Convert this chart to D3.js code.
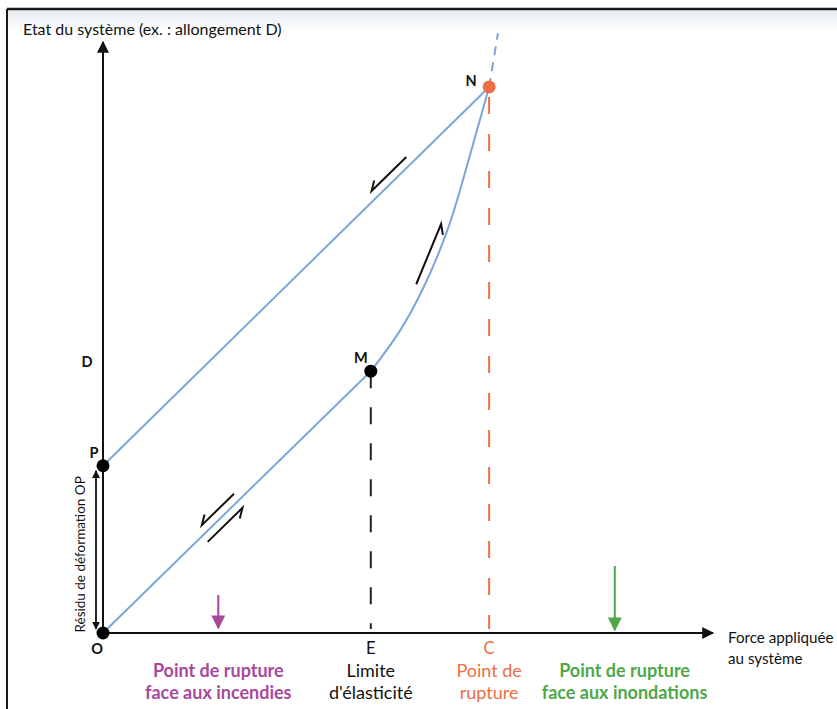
<!DOCTYPE html>
<html><head><meta charset="utf-8">
<script src="https://cdn.jsdelivr.net/npm/d3@7"></script>
<style>html,body{margin:0;padding:0;background:#fff}svg{display:block}</style>
</head><body>
<script>
// ---- data (force on x, system state on y, arbitrary units 0..100) ----
const pointNames = ["O", "P", "M", "N"];
const pointX = [0, 0, 43.9, 63.3];
const pointY = [0, 28.3, 44.3, 92.4];
// plastic loading curve M -> N
const curveX = [43.9, 48.7, 52.5, 56.9, 59.7, 63.3];
const curveY = [44.3, 50.8, 58.0, 68.7, 79.2, 92.4];
// extension beyond N (dashed)
const extX = [63.3, 64.75];
const extY = [92.4, 101.5];
// threshold positions on x axis
const tickNames = ["E", "C"];
const tickX = [43.9, 63.3];
const levelName = "D";
const levelY = 45.9;
const fireX = 18.9;
const floodX = 83.9;
const floodLabelX = 85.5;

const W = 837, H = 709;
const svg = d3.select("body").append("svg").attr("width", W).attr("height", H);
const x = d3.scaleLinear().domain([0, 100]).range([103, 713]);
const y = d3.scaleLinear().domain([0, 100]).range([633, 42]);

const FONT = "Lato, 'Open Sans', sans-serif";
const BLUE = "#7aa6d8", ORANGE = "#ec6e45", PURPLE = "#a8499c", GREEN = "#4ea84a";

const defs = svg.append("defs");
const g1 = defs.append("linearGradient").attr("id", "topfade").attr("x1", 0).attr("x2", 0).attr("y1", 0).attr("y2", 1);
g1.append("stop").attr("offset", 0).attr("stop-color", "#e6ecef");
g1.append("stop").attr("offset", 1).attr("stop-color", "#ffffff");
function marker(id, color, w, h) {
  defs.append("marker").attr("id", id).attr("viewBox", "0 0 10 10").attr("refX", 9).attr("refY", 5)
    .attr("markerWidth", w).attr("markerHeight", h).attr("markerUnits", "userSpaceOnUse").attr("orient", "auto-start-reverse")
    .append("path").attr("d", "M0,0L10,5L0,10z").attr("fill", color);
}
marker("arrBlack", "#111", 16, 12);
marker("arrSmall", "#111", 8, 8);
marker("arrPurple", PURPLE, 14, 14);
marker("arrGreen", GREEN, 14, 14);

// frame
svg.append("rect").attr("x", 8).attr("y", 10).attr("width", W).attr("height", 22).attr("fill", "url(#topfade)");
svg.append("line").attr("x1", 7).attr("x2", W).attr("y1", 9).attr("y2", 9).attr("stroke", "#1a1a1a").attr("stroke-width", 2.5);
svg.append("line").attr("x1", 7).attr("x2", 7).attr("y1", 9).attr("y2", H).attr("stroke", "#1a1a1a").attr("stroke-width", 2);

// dashed verticals
svg.append("line").attr("x1", x(tickX[0])).attr("x2", x(tickX[0])).attr("y1", y(pointY[2])).attr("y2", y(0) - 4)
  .attr("stroke", "#222").attr("stroke-width", 2).attr("stroke-dasharray", "17,19");
svg.append("line").attr("x1", x(tickX[1])).attr("x2", x(tickX[1])).attr("y1", y(pointY[3]) + 10).attr("y2", y(0) - 4)
  .attr("stroke", ORANGE).attr("stroke-width", 2).attr("stroke-dasharray", "17,20");

// axes
svg.append("line").attr("x1", x(0)).attr("x2", x(0)).attr("y1", y(0)).attr("y2", y(100))
  .attr("stroke", "#111").attr("stroke-width", 2).attr("marker-end", "url(#arrBlack)");
svg.append("line").attr("x1", x(0)).attr("x2", x(100)).attr("y1", y(0)).attr("y2", y(0))
  .attr("stroke", "#111").attr("stroke-width", 2).attr("marker-end", "url(#arrBlack)");

// blue lines
const line = d3.line().x(d => x(d[0])).y(d => y(d[1]));
const O = [pointX[0], pointY[0]], P = [pointX[1], pointY[1]], M = [pointX[2], pointY[2]], N = [pointX[3], pointY[3]];
svg.append("path").attr("d", line([O, M])).attr("stroke", BLUE).attr("stroke-width", 2).attr("fill", "none");
svg.append("path").attr("d", line([P, N])).attr("stroke", BLUE).attr("stroke-width", 2).attr("fill", "none");
const curvePts = curveX.map((v, i) => [v, curveY[i]]);
const curvePath = svg.append("path").attr("d", d3.line().x(d => x(d[0])).y(d => y(d[1])).curve(d3.curveBasis)(curvePts))
  .attr("stroke", BLUE).attr("stroke-width", 2).attr("fill", "none");
svg.append("path").attr("d", d3.line().x(d => x(d[0])).y(d => y(d[1]))(extX.map((v, i) => [v, extY[i]])))
  .attr("stroke", BLUE).attr("stroke-width", 2).attr("fill", "none").attr("stroke-dasharray", "9,7");

// harpoon arrows along the paths
function harpoon(a, b, off, barbSide) {
  const dx = b[0] - a[0], dy = b[1] - a[1], L = Math.hypot(dx, dy);
  const ux = dx / L, uy = dy / L, nx = -uy, ny = ux;
  const A = [a[0] + nx * off, a[1] + ny * off], B = [b[0] + nx * off, b[1] + ny * off];
  const s = Math.sign(off) * barbSide;
  const ang = 0.55, bl = 11;
  const bx = -ux * Math.cos(ang) + nx * s * Math.sin(ang), by = -uy * Math.cos(ang) + ny * s * Math.sin(ang);
  svg.append("path").attr("d", `M${A[0]},${A[1]}L${B[0]},${B[1]}L${B[0] + bx * bl},${B[1] + by * bl}`)
    .attr("stroke", "#111").attr("stroke-width", 2).attr("fill", "none").attr("stroke-linejoin", "miter");
}
function along(p, q, t) { return [x(p[0] + (q[0] - p[0]) * t), y(p[1] + (q[1] - p[1]) * t)]; }
// unloading N -> P
harpoon(along(P, N, 0.80), along(P, N, 0.71), 8, 1);
// O-M pair
harpoon(along(O, M, 0.51), along(O, M, 0.39), 8, 1);
harpoon(along(O, M, 0.37), along(O, M, 0.50), 8, 1);
// curve arrow
const cn = curvePath.node(), CL = cn.getTotalLength();
const c1 = cn.getPointAtLength(CL * 0.32), c2 = cn.getPointAtLength(CL * 0.53);
harpoon([c1.x, c1.y], [c2.x, c2.y], -8, -1);

// residual double arrow
svg.append("line").attr("x1", x(0) - 7).attr("x2", x(0) - 7).attr("y1", y(pointY[1]) + 5).attr("y2", y(0) - 4)
  .attr("stroke", "#111").attr("stroke-width", 1.8)
  .attr("marker-start", "url(#arrSmall)").attr("marker-end", "url(#arrSmall)");

// fire / flood arrows
svg.append("line").attr("x1", x(fireX)).attr("x2", x(fireX)).attr("y1", 595).attr("y2", y(0) - 5)
  .attr("stroke", PURPLE).attr("stroke-width", 2).attr("marker-end", "url(#arrPurple)");
svg.append("line").attr("x1", x(floodX)).attr("x2", x(floodX)).attr("y1", 566).attr("y2", y(0) - 3)
  .attr("stroke", GREEN).attr("stroke-width", 2).attr("marker-end", "url(#arrGreen)");

// points
const ptColor = ["#000", "#000", "#000", ORANGE];
svg.selectAll("circle.pt").data(pointNames).join("circle")
  .attr("cx", (d, i) => x(pointX[i])).attr("cy", (d, i) => y(pointY[i])).attr("r", 6.5)
  .attr("fill", (d, i) => ptColor[i]);

// point labels
const lblDx = [-6, -9, -10, -18], lblDy = [16, -13, -13, -6];
svg.selectAll("text.pl").data(pointNames).join("text")
  .attr("x", (d, i) => x(pointX[i]) + lblDx[i]).attr("y", (d, i) => y(pointY[i]) + lblDy[i] + 5)
  .attr("text-anchor", "middle").attr("font-family", FONT).attr("font-weight", "bold").attr("font-size", 14.5)
  .attr("fill", "#111").text(d => d);
svg.append("text").attr("x", x(0) - 16).attr("y", y(levelY) + 5).attr("text-anchor", "middle")
  .attr("font-family", FONT).attr("font-weight", "bold").attr("font-size", 14.5).attr("fill", "#111").text(levelName);

// tick labels E, C
const tickCol = ["#111", ORANGE];
tickNames.forEach((t, i) => {
  svg.append("text").attr("x", x(tickX[i])).attr("y", 654).attr("text-anchor", "middle")
    .attr("font-family", FONT).attr("font-size", 16.5).attr("fill", tickCol[i]).text(t);
});

// axis titles
svg.append("text").attr("x", 23).attr("y", 35).attr("font-family", FONT).attr("font-size", 16)
  .attr("fill", "#111").text("Etat du système (ex. : allongement D)");
svg.append("text").attr("x", 728).attr("y", 643).attr("font-family", FONT).attr("font-size", 15.2)
  .attr("fill", "#111").text("Force appliquée");
svg.append("text").attr("x", 728).attr("y", 664).attr("font-family", FONT).attr("font-size", 15.2)
  .attr("fill", "#111").text("au système");
svg.append("text").attr("transform", `translate(${x(0) - 18},${(y(pointY[1]) + y(0)) / 2 + 5}) rotate(-90)`)
  .attr("text-anchor", "middle").attr("font-family", FONT).attr("font-size", 13.5).attr("fill", "#111")
  .text("Résidu de déformation OP");

// bottom labels
const bottom = [
  {x: fireX, lines: ["Point de rupture", "face aux incendies"], c: PURPLE, w: "bold"},
  {x: tickX[0], lines: ["Limite", "d'élasticité"], c: "#111", w: "normal"},
  {x: tickX[1], lines: ["Point de", "rupture"], c: ORANGE, w: "normal"},
  {x: floodLabelX, lines: ["Point de rupture", "face aux inondations"], c: GREEN, w: "bold"}
];
bottom.forEach(b => {
  b.lines.forEach((l, j) => {
    svg.append("text").attr("x", x(b.x)).attr("y", 677 + j * 22).attr("text-anchor", "middle")
      .attr("font-family", FONT).attr("font-size", 18).attr("font-weight", b.w).attr("fill", b.c).text(l);
  });
});
</script>
</body></html>
